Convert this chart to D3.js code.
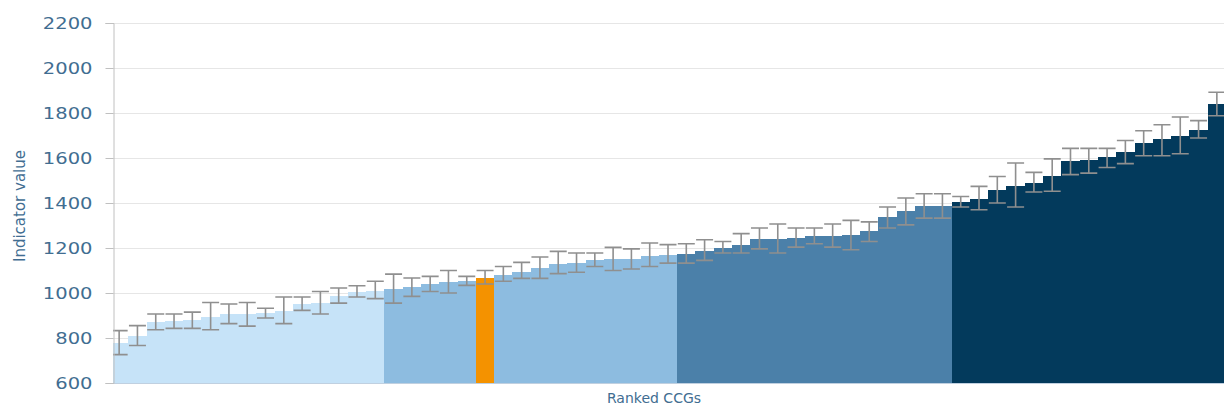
<!DOCTYPE html>
<html>
<head>
<meta charset="utf-8">
<script src="https://cdn.jsdelivr.net/npm/d3@7"></script>
<style>
  html, body { margin: 0; padding: 0; background: #ffffff; }
  svg { display: block; }
  text { font-family: "DejaVu Sans", Verdana, sans-serif; }
</style>
</head>
<body>
<svg id="chart" width="1224" height="410"></svg>
<script>
// Indicator value per CCG, ranked low to high, with confidence limits
const values = [779, 811, 872, 875, 878, 895, 905, 905, 910, 920,
                950, 955, 985, 1005, 1010, 1018, 1025, 1040, 1050, 1052,
                1068, 1082, 1095, 1110, 1130, 1135, 1145, 1150, 1152, 1165,
                1170, 1172, 1188, 1202, 1212, 1240, 1240, 1245, 1252, 1255,
                1260, 1275, 1338, 1365, 1388, 1388, 1405, 1420, 1458, 1477,
                1490, 1520, 1588, 1590, 1604, 1628, 1668, 1684, 1699, 1723,
                1838];
const lowerCI = [726, 767, 837, 843, 843, 837, 864, 853, 889, 864,
                 923, 907, 955, 982, 975, 955, 985, 1007, 1000, 1034,
                 1040, 1052, 1065, 1065, 1086, 1092, 1118, 1100, 1107, 1118,
                 1133, 1133, 1145, 1178, 1178, 1196, 1178, 1204, 1219, 1204,
                 1192, 1229, 1289, 1303, 1333, 1333, 1382, 1370, 1400, 1382,
                 1449, 1452, 1526, 1533, 1558, 1575, 1610, 1610, 1619, 1689,
                 1788];
const upperCI = [833, 855, 907, 907, 915, 958, 951, 958, 932, 982,
                 982, 1007, 1022, 1032, 1052, 1084, 1067, 1074, 1100, 1074,
                 1100, 1118, 1136, 1160, 1185, 1178, 1178, 1203, 1196, 1222,
                 1215, 1219, 1237, 1229, 1264, 1289, 1307, 1289, 1289, 1307,
                 1323, 1316, 1382, 1422, 1441, 1441, 1429, 1474, 1518, 1578,
                 1536, 1596, 1643, 1643, 1643, 1678, 1721, 1748, 1782, 1766,
                 1892];
// Number of CCGs falling in each quartile band (lowest first)
const quartileSizes = [15, 16, 15, 15];
const quartileColors = ["#c6e3f8", "#8dbce0", "#4b80a9", "#033a5c"];
const highlightIndex = 20;
const highlightColor = "#f49200";
const yTicks = [600, 800, 1000, 1200, 1400, 1600, 1800, 2000, 2200];
const xTitle = "Ranked CCGs";
const yTitle = "Indicator value";

const svg = d3.select("#chart");
const plot = { left: 113, right: 1224, top: 23, bottom: 383 };
const textColor = "#416d91";

// quartile index for each ranked bar
const quartileOf = [];
quartileSizes.forEach((n, q) => { for (let k = 0; k < n; k++) quartileOf.push(q); });

const data = values.map((v, i) => ({
  i, v, lo: lowerCI[i], hi: upperCI[i], q: quartileOf[i]
}));

const x = d3.scaleBand()
  .domain(data.map(d => d.i))
  .range([110, 1226])
  .paddingInner(0).paddingOuter(0);

const y = d3.scaleLinear()
  .domain([600, 2200])
  .range([plot.bottom, plot.top]);

svg.append("defs").append("clipPath").attr("id", "plotclip")
  .append("rect")
  .attr("x", plot.left).attr("y", 0)
  .attr("width", plot.right - plot.left).attr("height", plot.bottom + 1);

// grid lines
svg.append("g")
  .selectAll("line")
  .data(yTicks.slice(1))
  .join("line")
  .attr("x1", plot.left).attr("x2", plot.right)
  .attr("y1", d => Math.round(y(d)) + 0.5).attr("y2", d => Math.round(y(d)) + 0.5)
  .attr("stroke", "#e6e6e6").attr("stroke-width", 1);

const g = svg.append("g").attr("clip-path", "url(#plotclip)");

// bars, drawn edge to edge
g.selectAll("rect.bar")
  .data(data)
  .join("rect")
  .attr("class", "bar")
  .attr("shape-rendering", "crispEdges")
  .attr("x", d => Math.round(x(d.i)))
  .attr("width", d => Math.round(x(d.i) + x.bandwidth()) - Math.round(x(d.i)))
  .attr("y", d => Math.round(y(d.v)))
  .attr("height", d => Math.round(y(600)) - Math.round(y(d.v)))
  .attr("fill", d => d.i === highlightIndex ? highlightColor : quartileColors[d.q]);

// error bars
const cap = 17;
const eb = g.append("g")
  .attr("stroke", "#8f8f8f")
  .attr("stroke-width", 1.6)
  .attr("fill", "none");
eb.selectAll("path")
  .data(data)
  .join("path")
  .attr("d", d => {
    const cx = x(d.i) + x.bandwidth() / 2;
    const yh = y(d.hi), yl = y(d.lo);
    return `M${cx},${yh}V${yl}` +
           `M${cx - cap / 2},${yh}H${cx + cap / 2}` +
           `M${cx - cap / 2},${yl}H${cx + cap / 2}`;
  });

// bottom axis line
svg.append("line")
  .attr("x1", plot.left).attr("x2", plot.right)
  .attr("y1", plot.bottom + 0.5).attr("y2", plot.bottom + 0.5)
  .attr("stroke", "#c0d0e0").attr("stroke-width", 1);

// y axis
const yAxis = d3.axisLeft(y).tickValues(yTicks).tickSize(8).tickPadding(0).tickFormat(d3.format("d"));
const ya = svg.append("g")
  .attr("transform", `translate(${plot.left + 0.5},0)`)
  .call(yAxis);
ya.select(".domain").attr("stroke", "#c0c0c0");
ya.selectAll(".tick line").attr("stroke", "#c0c0c0");
ya.selectAll(".tick text")
  .attr("fill", textColor)
  .style("font-size", "16px")
  .attr("x", 0)
  .attr("dy", "0.36em")
  .attr("transform", "translate(-21,0) scale(1.22,1)");

// axis titles
svg.append("text")
  .attr("transform", `translate(20,${(plot.top + plot.bottom) / 2 + 3}) rotate(-90)`)
  .attr("text-anchor", "middle")
  .attr("dy", "0.35em")
  .attr("fill", textColor)
  .style("font-size", "15px")
  .text(yTitle);

svg.append("text")
  .attr("x", 654).attr("y", 403)
  .attr("text-anchor", "middle")
  .attr("fill", textColor)
  .style("font-size", "14px")
  .text(xTitle);
</script>
</body>
</html>
